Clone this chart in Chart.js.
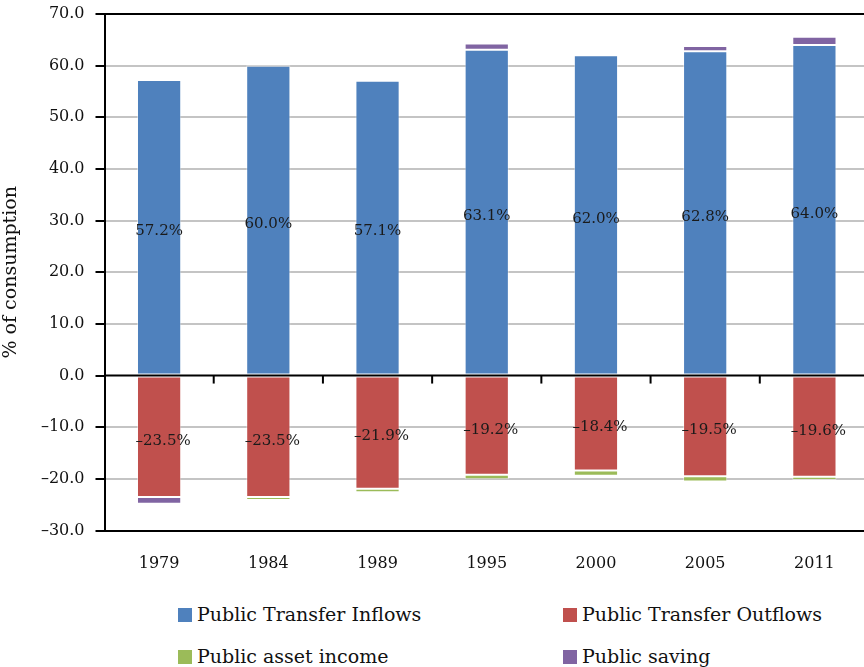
<!DOCTYPE html>
<html>
<head>
<meta charset="utf-8">
<script src="https://cdn.jsdelivr.net/npm/chart.js@4/dist/chart.umd.min.js"></script>
<style>
  html, body { margin: 0; padding: 0; background: #fff; overflow: hidden; width: 864px; height: 667px; }
  #wrap { position: absolute; left: 0; top: 0; width: 869px; height: 590px; }
  .leg { position: absolute; font-family: "DejaVu Serif", serif; font-size: 19px; color: #111; line-height: 22px; white-space: nowrap; }
  .leg span.box { display: inline-block; width: 14px; height: 14px; margin-right: 5px; vertical-align: -1px; }
</style>
</head>
<body>
<div id="wrap"><canvas id="c"></canvas></div>
<div id="legend"></div>
<script>
const years = ['1979', '1984', '1989', '1995', '2000', '2005', '2011'];
const transferInflows = [57.2, 60.0, 57.1, 63.1, 62.0, 62.8, 64.0];
const transferOutflows = [-23.5, -23.5, -21.9, -19.2, -18.4, -19.5, -19.6];
const assetIncome = [0.0, -0.6, -0.7, -0.9, -1.0, -1.0, -0.6];
const publicSaving = [-1.3, 0.3, -0.3, 1.2, -0.3, 1.0, 1.6];
const seriesNames = ['Public Transfer Inflows', 'Public Transfer Outflows', 'Public asset income', 'Public saving'];
const seriesColors = ['#4F81BD', '#C0504D', '#9BBB59', '#8064A2'];
const yTickValues = [70, 60, 50, 40, 30, 20, 10, 0, -10, -20, -30];

const FONT = '"DejaVu Serif", serif';

function fmt(v) {
  return (v < 0 ? '\u2013' : '') + Math.abs(v).toFixed(1);
}

const labelPlugin = {
  id: 'barLabels',
  afterDatasetsDraw(chart) {
    const ctx = chart.ctx;
    const xs = chart.scales.x, ys = chart.scales.y;
    const y0 = ys.getPixelForValue(0);
    ctx.save();
    ctx.strokeStyle = '#000';
    ctx.lineWidth = 2;
    ctx.beginPath();
    ctx.moveTo(chart.chartArea.left, y0);
    ctx.lineTo(chart.chartArea.right, y0);
    ctx.stroke();
    for (let i = 1; i < years.length; i++) {
      const bx = (xs.getPixelForValue(i - 1) + xs.getPixelForValue(i)) / 2;
      ctx.beginPath();
      ctx.moveTo(bx, y0);
      ctx.lineTo(bx, y0 + 8);
      ctx.stroke();
    }
    ctx.font = '15px ' + FONT;
    ctx.fillStyle = '#1a1a1a';
    ctx.textAlign = 'center';
    ctx.textBaseline = 'middle';
    [0, 1].forEach(di => {
      const meta = chart.getDatasetMeta(di);
      meta.data.forEach((el, i) => {
        const v = chart.data.datasets[di].data[i];
        const cy = (el.y + el.base) / 2 + 4;
        ctx.fillText(fmt(v) + '%', el.x + (v < 0 ? 4 : 0), cy);
      });
    });
    ctx.restore();
  }
};

const datasets = [transferInflows, transferOutflows, assetIncome, publicSaving].map((d, i) => ({
  label: seriesNames[i],
  data: d,
  backgroundColor: seriesColors[i],
  borderColor: 'rgba(255,255,255,0.45)',
  borderWidth: 1,
  borderSkipped: false,
  categoryPercentage: 1.0,
  barPercentage: 0.405
}));

new Chart(document.getElementById('c'), {
  type: 'bar',
  data: { labels: years, datasets },
  options: {
    responsive: true,
    maintainAspectRatio: false,
    animation: false,
    layout: { padding: { top: 14, right: 0, bottom: 0, left: 0 } },
    plugins: { legend: { display: false }, tooltip: { enabled: false } },
    scales: {
      x: {
        stacked: true,
        grid: { display: true, drawOnChartArea: false, drawTicks: false },
        border: { display: true, color: '#000', width: 2 },
        ticks: { color: '#111', font: { family: FONT, size: 16 }, padding: 24 },
        afterFit(s) { s.height = 59.5; }
      },
      y: {
        stacked: true,
        min: -30, max: 70,
        afterBuildTicks(s) { s.ticks = yTickValues.map(v => ({ value: v })); },
        grid: {
          color: c => (c.tick && c.tick.value === 70) ? '#000' : (c.tick && c.tick.value === 0 ? 'rgba(0,0,0,0)' : '#C4C4C4'),
          lineWidth: 2,
          tickColor: '#000',
          tickWidth: 2,
          tickLength: 9
        },
        border: { display: true, color: '#000', width: 2 },
        ticks: {
          color: '#111',
          font: { family: FONT, size: 16 },
          padding: 11,
          callback: v => fmt(v)
        },
        title: {
          display: true,
          text: '% of consumption',
          color: '#111',
          font: { family: FONT, size: 19 },
          padding: { top: 0, bottom: 2 }
        },
        afterFit(s) { s.width = 104.5; s.paddingTop = 0; s.paddingBottom = 0; }
      }
    }
  },
  plugins: [labelPlugin]
});

const legPos = [[178, 603], [563, 603], [178, 645], [563, 645]];
const legEl = document.getElementById('legend');
seriesNames.forEach((n, i) => {
  const d = document.createElement('div');
  d.className = 'leg';
  d.style.left = legPos[i][0] + 'px';
  d.style.top = legPos[i][1] + 'px';
  d.innerHTML = '<span class="box" style="background:' + seriesColors[i] + '"></span>' + n;
  legEl.appendChild(d);
});
</script>
</body>
</html>
